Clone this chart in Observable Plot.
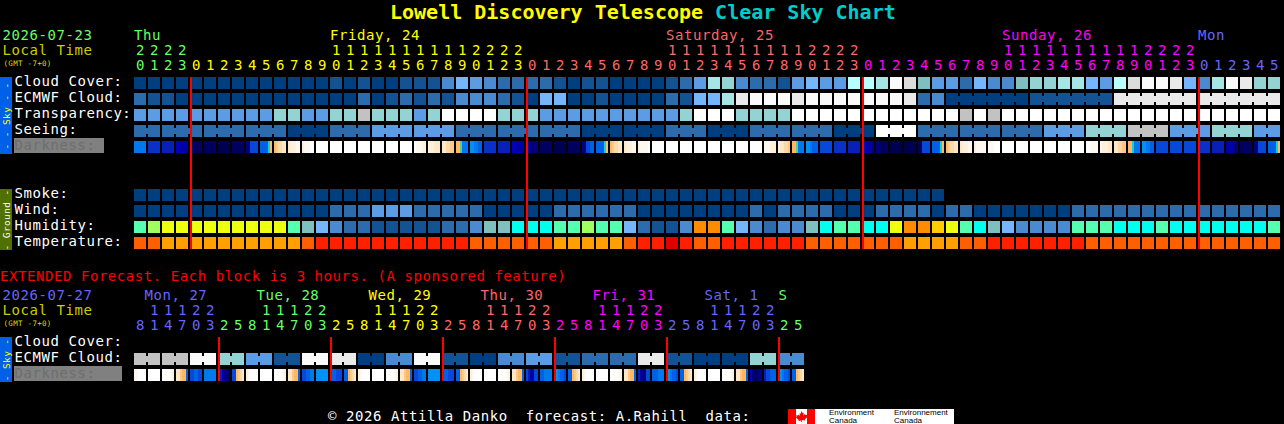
<!DOCTYPE html>
<html>
<head>
<meta charset="utf-8">
<script src="https://cdn.jsdelivr.net/npm/d3@7"></script>
<script src="https://cdn.jsdelivr.net/npm/@observablehq/plot@0.6"></script>
<style>
html,body{margin:0;padding:0;background:#000;overflow:hidden;width:1284px;height:424px}
body{font-family:"DejaVu Sans Mono",monospace;font-size:14px;letter-spacing:.04em;color:#fff}
svg{display:block;background:#000}
svg text{letter-spacing:.04em}
#title{height:26px;position:relative;font:bold 20px "DejaVu Sans Mono",monospace;letter-spacing:0;white-space:pre}
#title span{position:absolute;left:390px;top:0;line-height:24px;color:#ffff00}
#title b{color:#00cccc}
#note{height:36px;position:relative;color:#ff0000;white-space:pre}
#note span{position:absolute;left:0;top:16px;line-height:17px}
#foot{height:40px;position:relative;white-space:pre}
#foot .t{position:absolute;left:328px;top:24px;line-height:17px}
#logo{position:absolute;left:788px;top:25px;width:166px;height:15px;background:#fff;overflow:hidden;color:#000;font:8px/7px "Liberation Sans",sans-serif;letter-spacing:0}
#logo i{position:absolute;display:block;height:7px;line-height:7px;font-style:normal;white-space:pre}
</style>
</head>
<body>
<div id="title"><span>Lowell Discovery Telescope <b>Clear Sky Chart</b></span></div>
<div id="main"></div>
<div id="note"><span>EXTENDED Forecast. Each block is 3 hours. (A sponsored feature)</span></div>
<div id="ext"></div>
<div id="foot">
  <span class="t">© 2026 Attilla Danko  forecast: A.Rahill  data:</span>
  <div id="logo">
    <svg width="27" height="15" viewBox="0 0 27 15" style="position:absolute;left:0;top:0;background:#fff">
      <rect x="0" y="0" width="8" height="15" fill="#f00"/><rect x="19" y="0" width="8" height="15" fill="#f00"/>
      <path d="M13.5 2l1.3 2.2 1-.5-.4 2.7 1.6-1.4.4 1 2-.3-.6 1.9.8.5-2.9 2.3.3 1-2.9-.4V13h-.8v-1.5l-2.9.4.3-1-2.9-2.3.8-.5-.6-1.9 2 .3.4-1 1.6 1.4-.4-2.7 1 .5z" fill="#f00"/>
    </svg>
    <i style="left:41px;top:0">Environment</i><i style="left:41px;top:8px">Canada</i>
    <i style="left:106px;top:0">Environnement</i><i style="left:106px;top:8px">Canada</i>
  </div>
</div>
<script>
// ---------- main chart: one value per hour column ----------
const mainHours = [20,21,22,23,
  0,1,2,3,4,5,6,7,8,9,10,11,12,13,14,15,16,17,18,19,20,21,22,23,
  0,1,2,3,4,5,6,7,8,9,10,11,12,13,14,15,16,17,18,19,20,21,22,23,
  0,1,2,3,4,5,6,7,8,9,10,11,12,13,14,15,16,17,18,19,20,21,22,23,
  0,1,2,3,4,5];
const mainDays = [
  {label:"Thu", col:0, span:4, tone:"green"},
  {label:"Friday, 24", col:14, span:24, tone:"yellow", from:4},
  {label:"Saturday, 25", col:38, span:24, tone:"salmon", from:28},
  {label:"Sunday, 26", col:62, span:24, tone:"magenta", from:52},
  {label:"Mon", col:76, span:6, tone:"blue", from:76}
];
const midnightCols = [4,28,52,76];

const cloudCover = [0,0,0,0,0,0,0,0,0,0,0,0,0,0,1,0,1,0,0,1,1,1,3,5,4,3,2,2,2,2,1,0,1,1,0,0,0,0,1,2,4,8,7,3,2,2,1,4,5,4,4,9,9,8,13,11,6,4,4,2,5,3,3,6,7,7,8,8,5,4,9,11,13,13,12,5,3,8,13,12,7,7];
const ecmwfCloud = [2,1,1,0,0,0,0,0,0,0,0,0,0,0,0,0,2,0,1,2,1,2,1,3,3,3,2,1,0,5,5,0,0,1,0,0,0,0,2,1,5,5,8,12,13,13,13,12,13,13,13,13,13,13,13,12,2,3,0,0,0,0,0,0,1,1,1,1,1,1,12,12,12,12,12,12,12,12,12,12,12,12];
const ecmwfJoined = [[58,63],[64,69],[70,75],[76,81]];
const transparency = [4,4,4,4,4,4,4,4,4,4,7,7,4,4,7,7,10,7,7,7,4,7,14,14,14,14,7,7,7,4,4,4,4,4,4,4,4,4,4,7,14,14,14,7,7,7,7,14,14,14,14,14,14,14,14,14,14,14,14,10,14,10,14,14,14,14,14,14,14,14,14,14,14,14,14,14,14,14,14,14,14,14];
const seeingSpans  = [2,3,3,3,3,3,3,3,3,3,3,3,3,3,3,3,3,3,3,3,3,3,3,3,3,3,3,2];
const seeingLevels = [2,2,2,2,0,2,4,4,2,2,2,0,0,2,0,2,2,0,14,2,2,2,4,7,10,4,7,4];
const smoke = [0,0,0,0,0,0,0,0,0,0,0,0,0,0,0,0,0,0,0,0,0,0,0,0,0,0,0,0,0,0,0,0,0,0,0,0,0,0,0,0,0,0,0,0,0,0,0,0,0,0,0,0,0,0,0,0,0,0];
const wind = [0,0,0,0,0,0,0,0,0,0,0,0,0,0,2,2,2,4,4,4,2,2,2,2,2,0,0,0,0,0,2,2,2,2,2,2,0,0,0,0,0,0,0,0,2,0,2,2,2,2,0,0,0,2,2,2,2,0,2,2,0,0,0,0,0,0,0,2,2,2,2,2,2,2,2,2,2,2,2,2,2,2];
const humidity = [15,16,17,17,17,17,17,17,17,17,17,15,6,5,3,2,2,1,1,1,1,1,2,2,3,6,6,20,20,20,15,15,16,15,15,5,2,1,1,3,19,19,15,5,3,2,3,3,6,20,15,15,20,20,17,19,19,18,17,15,20,6,5,3,3,3,3,15,15,15,20,20,20,15,20,20,20,20,20,20,20,15];
const temperature = [21,21,22,22,22,22,22,22,22,22,22,22,21,23,23,23,23,23,23,23,23,23,23,23,21,21,21,21,21,21,22,22,22,22,22,21,23,23,24,23,21,21,23,23,23,23,23,23,21,21,21,21,21,21,21,22,22,22,22,21,21,23,23,23,23,23,23,23,21,21,21,21,21,21,21,21,21,21,21,21,21,21];
// darkness: each entry lists equal slices across one hour block
const darkness = ["i","f","e","ttdddd","b","b","a","b","ccgggg","hhhhkm","mnoopp","pqqqrr","qrrrss","s","s","s","s","s","s","s","srrrqq","qqqppp","ppoonn","mmliii","jjiihh","f","e","ttdddd","ddcccc","b","a","b","ccgghh","hhhhkm","mnoopp","pqqqrr","qrrrrs","s","s","s","s","s","s","s","s","rrrqqq","qppoon","mmliii","jjihhh","g","f","e","ttdddc","ccbbbb","a","a","bbgggg","hhhhkm","mnoopp","pqqqrr","qrrrrr","rrrsss","s","s","s","s","s","s","ssrrrr","rqqqpp","ppoonn","mmkiii","jjiihh","g","g","g","f","e","ddddcc","b","ccgggg","hhhhkm"];

// ---------- extended chart: two columns per block ----------
const extHours = [8,11,14,17,20,23,2,5,8,11,14,17,20,23,2,5,8,11,14,17,20,23,2,5,8,11,14,17,20,23,2,5,8,11,14,17,20,23,2,5,8,11,14,17,20,23,2,5];
const extDays = [
  {label:"Mon, 27", at:0.71, tone:"blue", from:0, span:6},
  {label:"Tue, 28", at:8.71, tone:"green", from:6, span:8},
  {label:"Wed, 29", at:16.71, tone:"yellow", from:14, span:8},
  {label:"Thu, 30", at:24.71, tone:"salmon", from:22, span:8},
  {label:"Fri, 31", at:32.71, tone:"magenta", from:30, span:8},
  {label:"Sat, 1", at:40.71, tone:"blue", from:38, span:8},
  {label:"S", at:46, tone:"green", from:46, span:2}
];
const extMidnights = [6,14,22,30,38,46];
const extEcmwf = [10,10,13,7,4,1,13,12,0,3,13,1,0,3,4,1,2,2,12,1,0,0,7,3];
const extDarkness = ["rrssss","s","ssssrq","ppnmmh","gghhgg","i","hedccb","ggmnop","qrssss","s","ssssrq","ppnmmh","gghhii","j","ihhggg","hhmnop","qrssss","s","ssssrq","ppnmmh","gghhii","j","ihhggg","hhmnop","qrssss","s","ssssrq","ppnmmh","geddgg","hhiiii","jjihhg","hhmnop","qrssss","s","ssssrq","ppnmmh","edccgg","hhhiii","jjihhg","hhmnop","qrssss","s","ssssrq","ppnmmh","tcbbcc","egghhh","jjihhg","hhmnop"];

// ---------- scales for colours ----------
const levelColors = ["#003f7f","#135393","#2c6cac","#4a8ad0","#5c9ce4","#75b5fb","#80bfbf","#93d3d3","#a5e5e5","#b8ffff","#c2c2c2","#dcdcdc","#eaeaea","#fafafa","#ffffff",
  "#55ffb0","#a0ff60","#eeff10","#ffcc00","#ff8c00","#00ffee","#ff5f00","#ff9f00","#ff2000","#e00000"];
const darkColors = {a:"#000050",b:"#000060",c:"#000080",d:"#0000a8",t:"#0000c0",e:"#0820b8",f:"#0a30c8",g:"#0848d8",h:"#0060e8",i:"#0078ee",j:"#0090f8",k:"#10d0e0",l:"#60c8a0",m:"#ffb860",n:"#ffc888",o:"#ffd8a8",p:"#ffe8c8",q:"#fff0dc",r:"#fff8f0",s:"#ffffff"};
const tones = {green:"#66ff66",yellow:"#ffff00",salmon:"#ff6666",magenta:"#ff00ff",blue:"#6666ff"};

// ---------- helpers ----------
const CELL = 12/14, BAR = 0.75, FONT = "DejaVu Sans Mono", FS = 14;
const BASE = {day:-2.375, tens:-1.4375, unit:-0.5, gmt:-0.75};
const cellsOf = (row, values) => values.map((v,col)=>({row,col,fill:levelColors[v]}));
const cellRect = data => Plot.rect(data,{x1:"col",x2:d=>d.col+CELL,y1:"row",y2:d=>d.row+BAR,fill:"fill",shapeRendering:"crispEdges"});
const joinRect = data => Plot.rect(data,{x1:d=>d.col+CELL,x2:d=>d.col+1,y1:d=>d.row+0.1875,y2:d=>d.row+0.5625,fill:"fill",shapeRendering:"crispEdges"});
const slicesOf = (row, strips) => strips.flatMap((s,col)=>[...s].map((k,i)=>({row,x1:col+CELL*i/s.length,x2:col+CELL*(i+1)/s.length,fill:darkColors[k]})));
const sliceRect = data => Plot.rect(data,{x1:"x1",x2:"x2",y1:"row",y2:d=>d.row+BAR,fill:"fill",shapeRendering:"crispEdges"});
const label = (rows) => Plot.text(rows,{frameAnchor:"left",dx:14,y:d=>d.row+0.5,text:"text",fill:d=>d.fill||"#ffffff",fontFamily:FONT,fontSize:FS,textAnchor:"start",lineAnchor:"bottom"});
const leftText = (text,y,fill,size,dx=2) => Plot.text([text],{frameAnchor:"left",dx,y:()=>y,fill,fontFamily:FONT,fontSize:size,textAnchor:"start",lineAnchor:"bottom"});
const tab = (y1,y2,fill) => Plot.rect([0],{y1:()=>y1,y2:()=>y2,insetRight:1272,fill,shapeRendering:"crispEdges"});
const tabText = (text,y,fill) => Plot.text([text],{frameAnchor:"left",dx:6,y:()=>y,rotate:-90,fill,fontFamily:FONT,fontSize:9.5,textAnchor:"middle"});
const hourTexts = (hours,toneAt) => {
  const rows = hours.map((h,col)=>({col,h,fill:tones[toneAt(col)]}));
  const digit = (data,y,text) => Plot.text(data,{x:d=>d.col+0.43,y:()=>y,text,fill:"fill",fontFamily:FONT,fontSize:FS,textAnchor:"middle",lineAnchor:"bottom"});
  return [digit(rows,BASE.unit,d=>String(d.h%10)), digit(rows.filter(d=>d.h>=10),BASE.tens,d=>String(Math.floor(d.h/10)))];
};
const baseOpts = {width:1284,marginTop:0,marginRight:0,marginBottom:0,marginLeft:0,style:{background:"#000"},
  x:{domain:[0,82],range:[134,1282],axis:null}};

// ---------- main chart ----------
const cols = c => c<4?"green":c<28?"yellow":c<52?"salmon":c<76?"magenta":"blue";
const seeingCells = [], seeingJoins = [];
{ let col = 0;
  seeingSpans.forEach((n,k)=>{ for(let i=0;i<n;i++){ const c={row:3,col:col+i,fill:levelColors[seeingLevels[k]]}; seeingCells.push(c); if(i<n-1) seeingJoins.push(c);} col+=n; }); }
const ecmwfCells = cellsOf(1,ecmwfCloud);
const ecmwfJoins = ecmwfCells.filter(d=>ecmwfJoined.some(([a,b])=>d.col>=a&&d.col<b));
const mainLabels = [
  {row:0,text:"Cloud Cover:"},{row:1,text:"ECMWF Cloud:"},{row:2,text:"Transparency:"},{row:3,text:"Seeing:"},
  {row:4,text:"Darkness:",fill:"#6e6e6e"},
  {row:7,text:"Smoke:"},{row:8,text:"Wind:"},{row:9,text:"Humidity:"},{row:10,text:"Temperature:"}
];
const mainPlot = Plot.plot({...baseOpts,height:226,
  y:{domain:[-3.1875,10.9375],range:[0,226],axis:null},
  marks:[
    cellRect(cellsOf(0,cloudCover)),cellRect(ecmwfCells),joinRect(ecmwfJoins),
    cellRect(cellsOf(2,transparency)),cellRect(seeingCells),joinRect(seeingJoins),
    sliceRect(slicesOf(4,darkness)),
    cellRect(cellsOf(7,smoke)),cellRect(cellsOf(8,wind)),cellRect(cellsOf(9,humidity)),cellRect(cellsOf(10,temperature)),
    Plot.ruleX(midnightCols,{x:d=>d,y1:0,y2:10.75,stroke:"#ff0000",strokeWidth:2,shapeRendering:"crispEdges"}),
    tab(0,4.8125,"#0060e8"),tabText("- - Sky - -",2.4,"#ffff00"),
    tab(7,10.8125,"#507000"),tabText("- Ground -",8.9,"#ffffff"),
    Plot.rect([0],{y1:()=>3.8125,y2:()=>4.75,insetLeft:14,insetRight:1180,fill:"#808080",shapeRendering:"crispEdges"}),
    label(mainLabels),
    leftText("2026-07-23",BASE.day,"#66ff66",FS),
    leftText("Local Time",BASE.tens,"#cccc00",FS),
    leftText("(GMT -7+0)",BASE.gmt,"#dddd00",7.5,3),
    Plot.text(mainDays,{x:"col",y:()=>BASE.day,text:"label",fill:d=>tones[d.tone],fontFamily:FONT,fontSize:FS,textAnchor:"start",lineAnchor:"bottom",dx:-0.5}),
    ...hourTexts(mainHours,cols)
  ]});
document.getElementById("main").append(mainPlot);

// ---------- extended chart ----------
const toneExt = c => extDays.find(d=>c>=d.from&&c<d.from+d.span).tone;
const extCells = [], extJoins = [];
extEcmwf.forEach((v,k)=>{ const a={row:1,col:2*k,fill:levelColors[v]}, b={row:1,col:2*k+1,fill:levelColors[v]}; extCells.push(a,b); extJoins.push(a); });
const extPlot = Plot.plot({...baseOpts,height:96,
  y:{domain:[-3.0625,2.9375],range:[0,96],axis:null},
  marks:[
    cellRect(extCells),joinRect(extJoins),
    sliceRect(slicesOf(2,extDarkness)),
    Plot.ruleX(extMidnights,{x:d=>d,y1:0,y2:2.75,stroke:"#ff0000",strokeWidth:2,shapeRendering:"crispEdges"}),
    tab(0,2.8125,"#0060e8"),tabText("- Sky -",1.4,"#ffff00"),
    Plot.rect([0],{y1:()=>1.8125,y2:()=>2.75,insetLeft:14,insetRight:1162,fill:"#808080",shapeRendering:"crispEdges"}),
    label([{row:0,text:"Cloud Cover:"},{row:1,text:"ECMWF Cloud:"},{row:2,text:"Darkness:",fill:"#6e6e6e"}]),
    leftText("2026-07-27",BASE.day,"#6666ff",FS),
    leftText("Local Time",BASE.tens,"#cccc00",FS),
    leftText("(GMT -7+0)",BASE.gmt,"#dddd00",7.5,3),
    Plot.text(extDays,{x:"at",y:()=>BASE.day,text:"label",fill:d=>tones[d.tone],fontFamily:FONT,fontSize:FS,textAnchor:"start",lineAnchor:"bottom"}),
    ...hourTexts(extHours,toneExt)
  ]});
document.getElementById("ext").append(extPlot);
</script>
</body>
</html>
